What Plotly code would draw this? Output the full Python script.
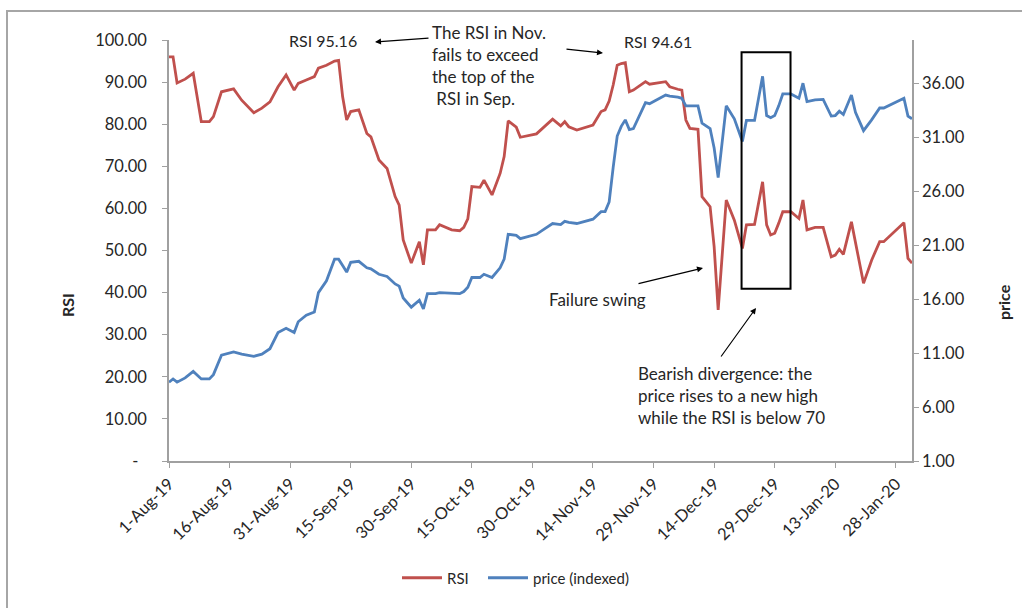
import plotly.graph_objects as go

# Trading-day observations: date, RSI and indexed price
dates = [
    "2019-08-01", "2019-08-02", "2019-08-03", "2019-08-05", "2019-08-07", "2019-08-09",
    "2019-08-11", "2019-08-12", "2019-08-14", "2019-08-17", "2019-08-19", "2019-08-22",
    "2019-08-24", "2019-08-26", "2019-08-28", "2019-08-30", "2019-09-01", "2019-09-02",
    "2019-09-04", "2019-09-06", "2019-09-07", "2019-09-09", "2019-09-11", "2019-09-12",
    "2019-09-13", "2019-09-14", "2019-09-15", "2019-09-17", "2019-09-19", "2019-09-20",
    "2019-09-22", "2019-09-24", "2019-09-26", "2019-09-27", "2019-09-28", "2019-09-30",
    "2019-10-02", "2019-10-03", "2019-10-04", "2019-10-06", "2019-10-07", "2019-10-10",
    "2019-10-12", "2019-10-13", "2019-10-14", "2019-10-15", "2019-10-17", "2019-10-18",
    "2019-10-20", "2019-10-22", "2019-10-23", "2019-10-24", "2019-10-26", "2019-10-27",
    "2019-10-31", "2019-11-02", "2019-11-04", "2019-11-06", "2019-11-07", "2019-11-08",
    "2019-11-10", "2019-11-14", "2019-11-16", "2019-11-17", "2019-11-18", "2019-11-19",
    "2019-11-20", "2019-11-21", "2019-11-22", "2019-11-23", "2019-11-24", "2019-11-27",
    "2019-11-28", "2019-12-02", "2019-12-03", "2019-12-05", "2019-12-06", "2019-12-07",
    "2019-12-08", "2019-12-10", "2019-12-11", "2019-12-13", "2019-12-14", "2019-12-15",
    "2019-12-17", "2019-12-19", "2019-12-21", "2019-12-22", "2019-12-24", "2019-12-26",
    "2019-12-27", "2019-12-28", "2019-12-29", "2019-12-30", "2019-12-31", "2020-01-02",
    "2020-01-04", "2020-01-05", "2020-01-06", "2020-01-08", "2020-01-10", "2020-01-12",
    "2020-01-13", "2020-01-14", "2020-01-15", "2020-01-17", "2020-01-18", "2020-01-20",
    "2020-01-22", "2020-01-24", "2020-01-25", "2020-01-28", "2020-01-30", "2020-01-31",
    "2020-02-01",
]

rsi = [
    96.0, 96.0, 89.8, 90.7, 92.1, 80.6,
    80.6, 81.8, 87.7, 88.4, 85.7, 82.7,
    83.8, 85.3, 88.9, 91.7, 88.1, 89.7,
    90.5, 91.3, 93.3, 94.0, 95.0, 95.16,
    86.5, 81.0, 83.0, 83.4, 77.8, 77.0,
    71.5, 69.5, 62.8, 60.8, 52.5, 47.0,
    52.1, 46.6, 54.9, 54.9, 56.1, 54.9,
    54.7, 55.5, 57.5, 65.2, 65.0, 66.7,
    63.2, 68.3, 72.3, 80.8, 79.3, 76.9,
    77.7, 79.4, 81.2, 79.6, 80.6, 79.4,
    78.6, 79.8, 83.0, 83.4, 85.5, 89.3,
    94.0, 94.4, 94.61, 87.7, 88.1, 90.1,
    89.5, 90.1, 88.9, 88.3, 88.1, 81.0,
    79.0, 78.8, 62.8, 60.4, 50.9, 35.9,
    62.0, 57.2, 50.5, 56.1, 56.2, 66.3,
    56.1, 53.7, 54.1, 56.5, 59.2, 59.2,
    57.6, 62.0, 54.9, 55.5, 55.5, 48.5,
    48.9, 50.3, 49.1, 56.8, 52.1, 42.2,
    47.7, 52.1, 52.1, 54.9, 56.6, 48.1,
    47.0,
]

price = [
    8.3, 8.6, 8.3, 8.7, 9.3, 8.6,
    8.6, 9.0, 10.8, 11.1, 10.9, 10.7,
    10.9, 11.4, 12.9, 13.3, 12.9, 13.9,
    14.5, 14.8, 16.6, 17.7, 19.7, 19.7,
    19.1, 18.5, 19.4, 19.5, 18.9, 18.8,
    18.3, 18.1, 17.4, 17.2, 16.1, 15.25,
    15.9, 15.1, 16.5, 16.5, 16.6, 16.5,
    16.5, 16.7, 17.1, 18.0, 18.0, 18.3,
    18.0, 18.9, 19.7, 22.0, 21.9, 21.6,
    22.0, 22.5, 23.0, 22.9, 23.2, 23.1,
    23.0, 23.4, 24.1, 24.1, 25.0, 28.2,
    31.1, 32.0, 32.6, 31.7, 31.8, 34.2,
    34.1, 34.9, 34.8, 34.7, 34.6, 33.9,
    33.9, 33.9, 32.3, 31.8, 30.0, 27.25,
    33.9, 32.7, 30.6, 32.55, 32.55, 36.64,
    33.0, 32.8, 33.0, 33.9, 35.0, 35.0,
    34.6, 36.0, 34.3, 34.45, 34.5, 32.95,
    33.0, 33.4, 33.1, 34.9, 33.3, 31.6,
    32.6, 33.7, 33.7, 34.2, 34.6, 32.95,
    32.7,
]

rsi_ticks = [0, 10, 20, 30, 40, 50, 60, 70, 80, 90, 100]
rsi_tick_text = ["-\u00a0\u00a0", "10.00", "20.00", "30.00", "40.00", "50.00",
                 "60.00", "70.00", "80.00", "90.00", "100.00"]
price_ticks = [1, 6, 11, 16, 21, 26, 31, 36]
price_tick_text = ["1.00", "6.00", "11.00", "16.00", "21.00", "26.00", "31.00", "36.00"]

FONT = "Lato"
TXT = "#262626"
AXIS = "#a0a0a0"
RED = "#C0504D"
BLUE = "#4F81BD"

# plot-area geometry in pixels (used to place free annotations)
PL, PR, PT, PB = 169, 912, 40, 461


def px(x):
    return (x - PL) / (PR - PL)


def py(y):
    return (PB - y) / (PB - PT)


fig = go.Figure()
fig.add_trace(go.Scatter(x=dates, y=rsi, name="RSI", mode="lines",
                         line=dict(color=RED, width=2.8), yaxis="y", legend="legend"))
fig.add_trace(go.Scatter(x=dates, y=price, name="price (indexed)", mode="lines",
                         line=dict(color=BLUE, width=2.8), yaxis="y2", legend="legend2"))

tick_font = dict(family=FONT, size=16.5, color=TXT)
legend_font = dict(family=FONT, size=15, color=TXT)

fig.update_layout(
    width=1022, height=608,
    margin=dict(l=PL, r=1022 - PR, t=PT, b=608 - PB),
    paper_bgcolor="white", plot_bgcolor="white",
    font=dict(family=FONT, size=16, color=TXT),
    showlegend=True,
    legend=dict(orientation="h", x=px(397), y=py(578), xanchor="left", yanchor="middle",
                font=legend_font, itemwidth=40, bgcolor="rgba(0,0,0,0)"),
    legend2=dict(orientation="h", x=px(483), y=py(578), xanchor="left", yanchor="middle",
                 font=legend_font, itemwidth=40, bgcolor="rgba(0,0,0,0)"),
    xaxis=dict(
        type="date", range=["2019-08-01", "2020-02-01"],
        tick0="2019-08-01", dtick=15 * 86400000, tickformat="%-d-%b-%y",
        tickangle=-45, ticks="outside", ticklen=5, tickcolor=AXIS,
        showline=True, linecolor=AXIS, linewidth=1.5, showgrid=False, zeroline=False,
        tickfont=tick_font,
    ),
    yaxis=dict(
        range=[0, 100], tickvals=rsi_ticks, ticktext=rsi_tick_text,
        ticks="outside", ticklen=5, tickcolor=AXIS, ticklabelstandoff=12,
        showline=True, linecolor=AXIS, linewidth=1.5, showgrid=False, zeroline=False,
        tickfont=tick_font,
    ),
    yaxis2=dict(
        range=[1, 40], tickvals=price_ticks, ticktext=price_tick_text,
        overlaying="y", side="right",
        ticks="outside", ticklen=5, tickcolor=AXIS,
        showline=True, linecolor=AXIS, linewidth=1.5, showgrid=False, zeroline=False,
        tickfont=tick_font,
    ),
)

# Outer chart frame
fig.add_shape(type="rect", xref="paper", yref="paper",
              x0=px(7), x1=px(1040), y0=py(640), y1=py(11),
              line=dict(color="#a6a6a6", width=2), layer="below")

# Box around the divergence window
fig.add_shape(type="rect", xref="x", yref="y",
              x0="2019-12-20 19:00", x1="2020-01-01 22:00", y0=40.9, y1=97.1,
              line=dict(color="black", width=2))

label_font = dict(family=FONT, size=16, color=TXT)
block_font = dict(family=FONT, size=17, color=TXT)

fig.add_annotation(x=px(323), y=py(40), xref="paper", yref="paper", text="RSI 95.16",
                   showarrow=False, font=label_font, xanchor="center", yanchor="middle")
fig.add_annotation(x=px(658), y=py(41), xref="paper", yref="paper", text="RSI 94.61",
                   showarrow=False, font=label_font, xanchor="center", yanchor="middle")
fig.add_annotation(x=px(430), y=py(20), xref="paper", yref="paper",
                   text="The RSI in Nov.<br>fails to exceed<br>the top of the<br>\u00a0RSI in Sep.",
                   showarrow=False, font=block_font, xanchor="left", yanchor="top", align="left")
fig.add_annotation(x=px(597), y=py(299), xref="paper", yref="paper", text="Failure swing",
                   showarrow=False, font=block_font, xanchor="center", yanchor="middle")
fig.add_annotation(x=px(636), y=py(361), xref="paper", yref="paper",
                   text="Bearish divergence: the<br>price rises to a new high<br>while the RSI is below 70",
                   showarrow=False, font=block_font, xanchor="left", yanchor="top", align="left")

# Arrows: (tail pixel), (head pixel)
arrows = [
    ((430, 38), (375, 42)),
    ((565, 49), (603, 53)),
    ((637, 284), (703, 268)),
    ((720, 358), (756, 308)),
]
for (x0, y0), (x1, y1) in arrows:
    fig.add_annotation(
        x=px(x1), y=py(y1), ax=x0 - x1, ay=y0 - y1,
        xref="paper", yref="paper", axref="pixel", ayref="pixel",
        text="", showarrow=True, arrowhead=2, arrowsize=1, arrowwidth=1.2, arrowcolor="black",
    )

# Axis titles
fig.add_annotation(x=px(67), y=py(305), xref="paper", yref="paper",
                   text="<b>RSI</b>", textangle=-90, showarrow=False,
                   xanchor="center", yanchor="middle",
                   font=dict(family=FONT, size=16, color=TXT))
fig.add_annotation(x=px(1003), y=py(302), xref="paper", yref="paper",
                   text="<b>price</b>", textangle=-90, showarrow=False,
                   xanchor="center", yanchor="middle",
                   font=dict(family=FONT, size=16, color=TXT))

fig.write_html("out.html")
